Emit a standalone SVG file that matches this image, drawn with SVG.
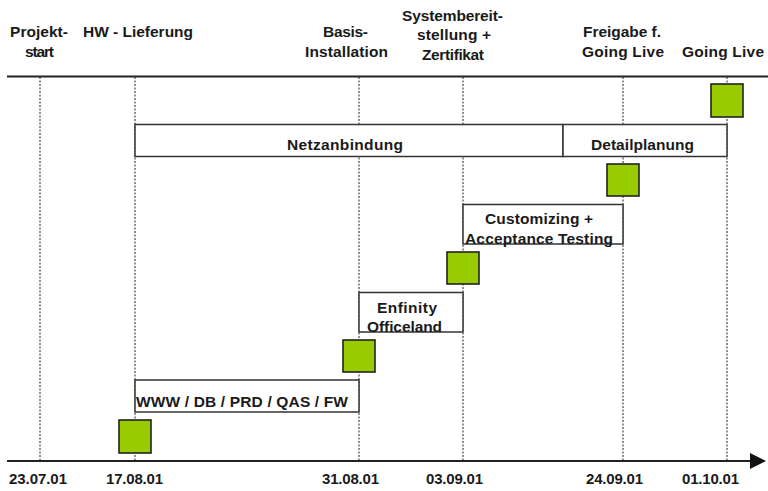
<svg xmlns="http://www.w3.org/2000/svg" width="768" height="491" viewBox="0 0 768 491">
  <style>
    text { font-family: "Liberation Sans", Arial, sans-serif; font-weight: bold; font-size: 15.5px; fill: #1a1a1a; }
    .date { font-size: 15px; }
    .axis { stroke: #222; stroke-width: 2; fill: none; }
    .grid { stroke: #222; stroke-width: 1; stroke-dasharray: 2 1.5; fill: none; }
    .bar { fill: #fff; stroke: #333; stroke-width: 1.5; }
    .milestone { fill: #99cc00; stroke: #222; stroke-width: 1.6; }
  </style>
  <defs>
    <marker id="arrow" markerUnits="userSpaceOnUse" markerWidth="16" markerHeight="16" refX="0" refY="8" orient="auto">
      <path d="M0,0 L16,8 L0,16 Z" fill="#111"/>
    </marker>
  </defs>
  <rect width="768" height="491" fill="#fff"/>

  <!-- time axes and date guides -->
  <g id="connectors">
    <line class="axis" x1="7" y1="76.5" x2="768" y2="76.5"/>
    <line class="axis" x1="7" y1="461" x2="750" y2="461" marker-end="url(#arrow)"/>
    <line class="grid" x1="40" y1="77" x2="40" y2="460"/>
    <line class="grid" x1="135" y1="77" x2="135" y2="460"/>
    <line class="grid" x1="359" y1="77" x2="359" y2="460"/>
    <line class="grid" x1="463" y1="77" x2="463" y2="460"/>
    <line class="grid" x1="623" y1="77" x2="623" y2="460"/>
    <line class="grid" x1="727" y1="77" x2="727" y2="460"/>
  </g>

  <!-- milestone headings -->
  <g id="label-projektstart">
    <text x="10" y="36.5" textLength="58">Projekt-</text>
    <text x="25" y="56.5" textLength="29">start</text>
  </g>
  <g id="label-hw-lieferung">
    <text x="83" y="36.5" textLength="110">HW - Lieferung</text>
  </g>
  <g id="label-basis-installation">
    <text x="323" y="37" textLength="45">Basis-</text>
    <text x="305" y="56.5" textLength="83">Installation</text>
  </g>
  <g id="label-systembereitstellung">
    <text x="402" y="20.5" textLength="101">Systembereit-</text>
    <text x="417" y="40" textLength="74">stellung +</text>
    <text x="422" y="59.5" textLength="62">Zertifikat</text>
  </g>
  <g id="label-freigabe">
    <text x="583" y="37" textLength="78">Freigabe f.</text>
    <text x="582" y="56.5" textLength="82">Going Live</text>
  </g>
  <g id="label-going-live">
    <text x="682" y="56.5" textLength="82">Going Live</text>
  </g>

  <!-- work packages -->
  <g id="bar-netzanbindung">
    <rect class="bar" x="135" y="124.5" width="428" height="32"/>
    <text x="287" y="150" textLength="116">Netzanbindung</text>
  </g>
  <g id="bar-detailplanung">
    <rect class="bar" x="563" y="124.5" width="164" height="32"/>
    <text x="591" y="150" textLength="103">Detailplanung</text>
  </g>
  <g id="bar-customizing">
    <rect class="bar" x="463" y="204.5" width="160" height="39.5"/>
    <text x="485" y="224" textLength="108">Customizing +</text>
    <text x="465" y="243.5" textLength="148">Acceptance Testing</text>
  </g>
  <g id="bar-enfinity">
    <rect class="bar" x="359" y="292.5" width="104" height="39.5"/>
    <text x="377" y="313" textLength="60">Enfinity</text>
    <text x="367" y="332" textLength="75">Officeland</text>
  </g>
  <g id="bar-www">
    <rect class="bar" x="135" y="380" width="224" height="32"/>
    <text x="136" y="407" textLength="212">WWW / DB / PRD / QAS / FW</text>
  </g>

  <!-- milestones -->
  <g id="milestone-hw"><rect class="milestone" x="119" y="420" width="32" height="33"/></g>
  <g id="milestone-basis"><rect class="milestone" x="343" y="340" width="32" height="32"/></g>
  <g id="milestone-system"><rect class="milestone" x="447" y="252" width="32" height="32"/></g>
  <g id="milestone-freigabe"><rect class="milestone" x="607" y="164" width="32" height="32"/></g>
  <g id="milestone-golive"><rect class="milestone" x="711" y="84" width="32" height="33"/></g>

  <!-- dates -->
  <g id="dates">
    <text class="date" x="9" y="484" textLength="58">23.07.01</text>
    <text class="date" x="106" y="484" textLength="57">17.08.01</text>
    <text class="date" x="322" y="484" textLength="57">31.08.01</text>
    <text class="date" x="426" y="484" textLength="57">03.09.01</text>
    <text class="date" x="586" y="484" textLength="57">24.09.01</text>
    <text class="date" x="682" y="484" textLength="57">01.10.01</text>
  </g>
</svg>
